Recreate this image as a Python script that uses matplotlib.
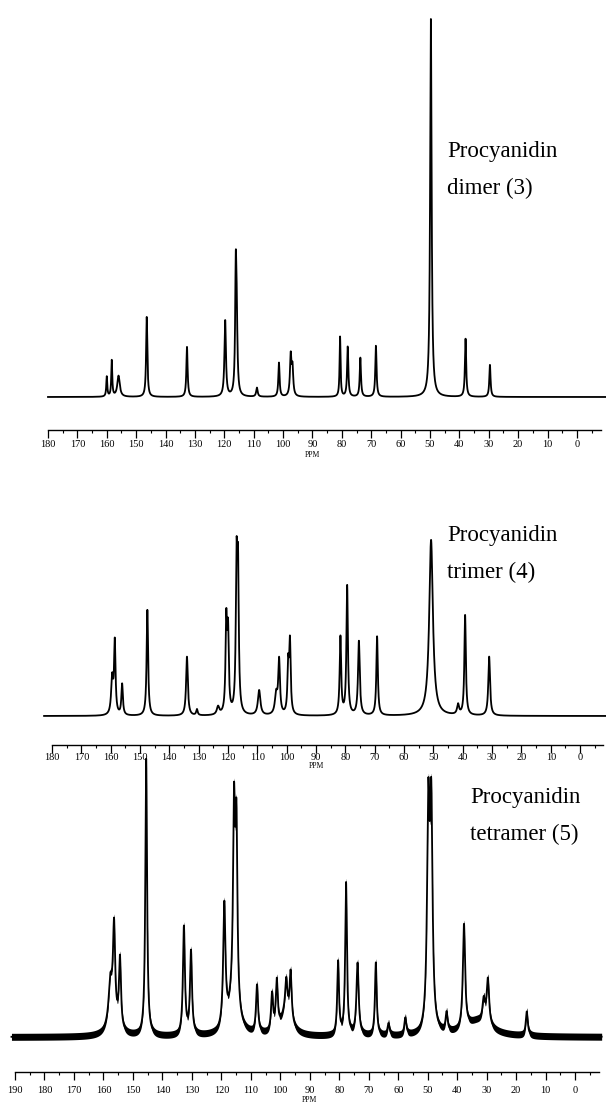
import numpy as np
import matplotlib
matplotlib.use("Agg")
import matplotlib.pyplot as plt
from matplotlib.ticker import MultipleLocator

# peak tables:
# shift (ppm), height (px above the baseline), half width (ppm)
# (heights of overlapping lines are set so that their sum matches the scan)
dimer_ppm = [160.0, 158.3, 156.0, 146.4, 132.7, 119.7, 116.1, 115.8, 108.9,
             101.4, 97.4, 96.8, 80.6, 78.0, 73.7, 68.4, 49.7,
             37.9, 29.6]
dimer_height = [20, 36, 21, 80, 50, 76, 110, 70, 9,
                34, 40, 27, 60, 50, 39, 51, 378,
                58, 32]
dimer_width = [0.2, 0.2, 0.5, 0.25, 0.25, 0.3, 0.25, 0.3, 0.3,
               0.25, 0.3, 0.3, 0.2, 0.25, 0.25, 0.25, 0.3,
               0.25, 0.25]

trimer_ppm = [159.5, 158.6, 156.1, 147.5, 134.0, 130.6, 123.4, 120.6, 120.0,
              117.1, 116.6, 109.4, 103.6, 102.6, 99.5, 98.9, 81.7, 79.4,
              75.4, 69.2, 50.8, 41.6, 39.2, 31.0]
trimer_height = [36, 72, 31, 106, 59, 6, 8, 90, 77,
                 141, 133, 25, 20, 54, 47, 70, 78, 129,
                 74, 79, 176, 10, 100, 59]
trimer_width = [0.4, 0.3, 0.3, 0.3, 0.35, 0.3, 0.5, 0.3, 0.3,
                0.3, 0.3, 0.5, 0.5, 0.35, 0.3, 0.3, 0.3, 0.3,
                0.35, 0.3, 0.75, 0.4, 0.3, 0.35]

tetramer_ppm = [157.7, 157.0, 156.4, 154.4, 145.5, 132.7, 130.3, 119.0,
                116.0, 115.7, 114.9, 107.9, 102.8, 101.2, 98.0, 98.0, 96.5,
                80.4, 77.7, 73.8, 67.6, 63.3, 57.6, 49.8, 48.8, 43.6, 37.7,
                33.0, 31.0, 29.6, 16.4]
tetramer_height = [30, 30, 85, 70, 277, 108, 83, 122,
                   30, 187, 175, 48, 37, 48, 25, 30, 48,
                   73, 152, 72, 73, 12, 17, 214, 214, 19, 104,
                   15, 22, 46, 24]
tetramer_width = [0.6, 1.5, 0.4, 0.4, 0.35, 0.4, 0.4, 0.45,
                  2.0, 0.4, 0.4, 0.4, 0.4, 0.4, 2.0, 0.4, 0.4,
                  0.35, 0.35, 0.45, 0.35, 0.4, 0.4, 0.5, 0.5, 0.4, 0.45,
                  5.0, 0.5, 0.5, 0.4]

# half height of the noise band (px), one per spectrum
noise_level = [0.0, 0.0, 3.5]

panel_names = [("Procyanidin", "dimer (3)"),
               ("Procyanidin", "trimer (4)"),
               ("Procyanidin", "tetramer (5)")]
axis_start = [180, 180, 190]


def spectrum(grid, centres, heights, widths):
    y = np.zeros_like(grid)
    for c, h, w in zip(centres, heights, widths):
        y += h * w ** 2 / ((grid - c) ** 2 + w ** 2)
    return y


W, H = 606, 1103
fig = plt.figure(figsize=(W / 100, H / 100), dpi=100)
plt.rcParams['font.family'] = ['Liberation Serif', 'DejaVu Serif']

# layout in pixels: left, right, spine y, top y, xlim right, baseline offset,
# spectrum range, label pads, title position
layout = [
    dict(l=48, r=601, b=430, t=15, xr=-8.2, base=33, span=(180.0, -10.0),
         pad=2.0, ppm_off=18, tx=447, ty=(152, 188)),
    dict(l=52, r=603, b=745, t=540, xr=-7.8, base=29, span=(182.7, -9.5),
         pad=0.5, ppm_off=15, tx=447, ty=(536, 572)),
    dict(l=15, r=599, b=1072, t=780, xr=-8.1, base=35, span=(191.2, -9.0),
         pad=4.5, ppm_off=20, tx=470, ty=(798, 834)),
]

tables = [(dimer_ppm, dimer_height, dimer_width),
          (trimer_ppm, trimer_height, trimer_width),
          (tetramer_ppm, tetramer_height, tetramer_width)]

for i, (lay, tab) in enumerate(zip(layout, tables)):
    ax = fig.add_axes([lay['l'] / W, 1 - lay['b'] / H,
                       (lay['r'] - lay['l']) / W, (lay['b'] - lay['t']) / H])
    ax.set_xlim(axis_start[i], lay['xr'])
    ax.set_ylim(-lay['base'], lay['b'] - lay['t'] - lay['base'])

    grid = np.linspace(lay['span'][0], lay['span'][1], 12000)
    y = spectrum(grid, *tab)
    ax.plot(grid, y, color='black', lw=1.3, clip_on=False)
    if noise_level[i] > 0:
        ax.fill_between(grid, y - noise_level[i], y + noise_level[i],
                        color='black', lw=0, clip_on=False)

    for s in ['left', 'right', 'top']:
        ax.spines[s].set_visible(False)
    ax.spines['bottom'].set_linewidth(1.0)
    ax.set_yticks([])
    ax.xaxis.set_major_locator(MultipleLocator(10))
    ax.xaxis.set_minor_locator(MultipleLocator(5))
    ax.tick_params(axis='x', which='major', direction='out', length=5.5,
                   width=0.9, labelsize=7.5, pad=lay['pad'])
    ax.tick_params(axis='x', which='minor', direction='out', length=2.2,
                   width=0.8)
    ax.annotate('PPM', xy=(90, 0), xycoords=('data', 'axes fraction'),
                xytext=(0, -lay['ppm_off']), textcoords='offset points',
                ha='center', va='center', fontsize=5.5)

    line1, line2 = panel_names[i]
    fig.text(lay['tx'] / W, 1 - lay['ty'][0] / H, line1, fontsize=16.5,
             ha='left', va='center')
    fig.text(lay['tx'] / W, 1 - lay['ty'][1] / H, line2, fontsize=16.5,
             ha='left', va='center')

fig.savefig("out.png", dpi=100, facecolor='white')
